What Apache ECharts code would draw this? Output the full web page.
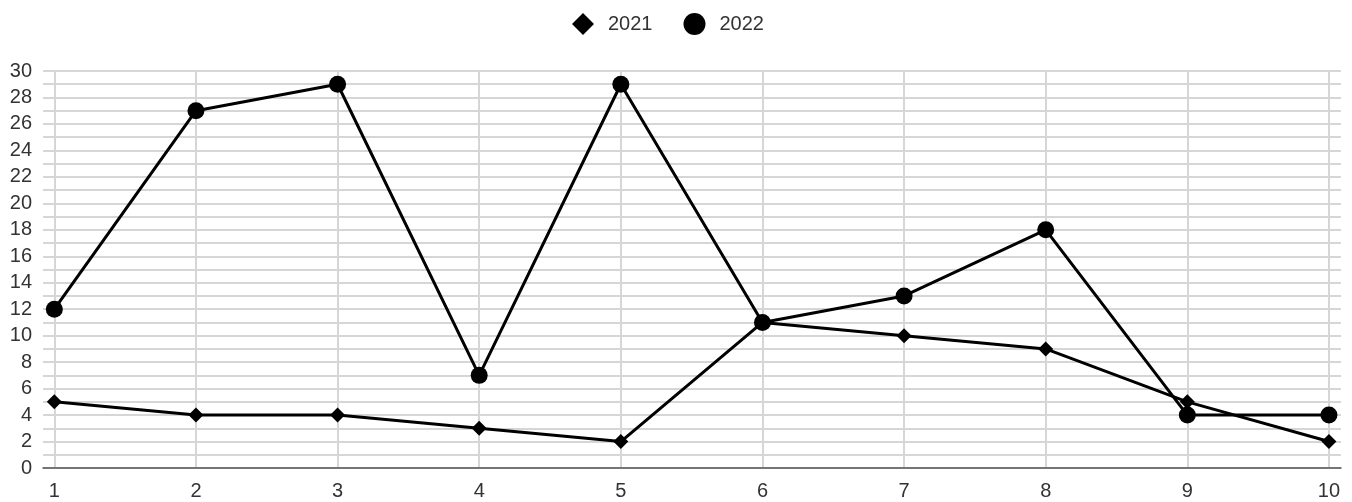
<!DOCTYPE html>
<html><head><meta charset="utf-8">
<script src="https://cdn.jsdelivr.net/npm/echarts@6/dist/echarts.min.js"></script>
<style>html,body{margin:0;padding:0;background:#fff}#c{width:1352px;height:502px}</style>
</head><body><div id="c"></div>
<script>
const categories = [1, 2, 3, 4, 5, 6, 7, 8, 9, 10];
const seriesNames = ['2021', '2022'];
const values2021 = [5, 4, 4, 3, 2, 11, 10, 9, 5, 2];
const values2022 = [12, 27, 29, 7, 29, 11, 13, 18, 4, 4];
const yTicks = [0, 2, 4, 6, 8, 10, 12, 14, 16, 18, 20, 22, 24, 26, 28, 30];

const chart = echarts.init(document.getElementById('c'));
const pairs = vals => categories.map((c, i) => [c, vals[i]]);
chart.setOption({
  animation: false,
  textStyle: { fontFamily: 'Liberation Sans, Arial, sans-serif' },
  legend: {
    top: 13, left: 572, padding: 0, itemGap: 31, itemWidth: 22, itemHeight: 22,
    textStyle: { fontSize: 20, color: '#333', padding: [0, 0, 0, 9] },
    data: [
      { name: seriesNames[0], icon: 'diamond' },
      { name: seriesNames[1], icon: 'circle' }
    ]
  },
  grid: { left: 43, right: 11, top: 71, bottom: 34 },
  xAxis: {
    type: 'value', min: 0.92, max: 10.085,
    axisLine: { show: true, onZero: false, lineStyle: { color: '#555', width: 1.5 } },
    axisTick: { show: false, customValues: categories },
    axisLabel: { customValues: categories, fontSize: 20, color: '#333', margin: 13 },
    splitLine: { show: true, lineStyle: { color: '#d6d6d6', width: 2 } }
  },
  yAxis: {
    type: 'value', min: 0, max: 30, interval: 2,
    axisLine: { show: false }, axisTick: { show: false },
    axisLabel: { fontSize: 20, color: '#333', margin: 11,
      formatter: v => yTicks.includes(v) ? String(v) : '' },
    splitLine: { show: true, lineStyle: { color: '#d6d6d6', width: 2 } },
    minorTick: { show: false, splitNumber: 2 },
    minorSplitLine: { show: true, lineStyle: { color: '#d6d6d6', width: 2 } }
  },
  series: [
    { name: seriesNames[0], type: 'line', data: pairs(values2021), symbol: 'diamond', symbolSize: 15,
      lineStyle: { color: '#000', width: 3 }, itemStyle: { color: '#000' }, z: 2 },
    { name: seriesNames[1], type: 'line', data: pairs(values2022), symbol: 'circle', symbolSize: 17,
      lineStyle: { color: '#000', width: 3 }, itemStyle: { color: '#000' }, z: 3 }
  ]
});
</script></body></html>
